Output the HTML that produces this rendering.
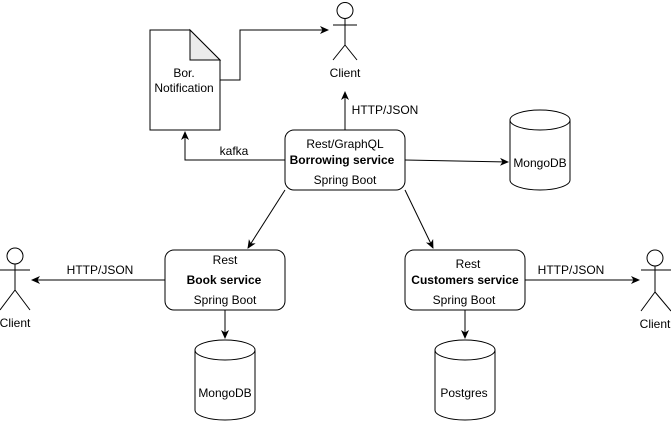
<!DOCTYPE html>
<html><head><meta charset="utf-8"><style>
html,body{margin:0;padding:0;background:#fff;}
svg{display:block;}
text{font-family:"Liberation Sans",sans-serif;font-size:12px;fill:#000;}
</style></head><body>
<svg width="671" height="421" viewBox="0 0 671 421" xmlns="http://www.w3.org/2000/svg">
<defs>
<marker id="a" markerWidth="10" markerHeight="10" refX="8" refY="5" orient="auto" markerUnits="userSpaceOnUse">
<path d="M0,1 L9,5 L0,9 L2.5,5 Z" fill="#000"/>
</marker>
</defs>
<g fill="none" stroke="#000" stroke-width="1">
<!-- top client -->
<circle cx="345" cy="10.5" r="8" fill="#fff"/>
<path d="M345,18.5V45 M333,25H357 M345,45L333,60 M345,45L357,60"/>
<!-- left client -->
<circle cx="15" cy="256" r="8" fill="#fff"/>
<path d="M15,264V290 M0,270H30 M15,290L0,310 M15,290L30,310"/>
<!-- right client -->
<circle cx="655" cy="258" r="8" fill="#fff"/>
<path d="M655,266V292 M641,270H671 M655,292L641,311 M655,292L671,311"/>
<!-- document -->
<path d="M150,30H190L220,60V130H150Z" fill="#fff"/>
<path d="M190,30V60H220Z" fill="#ebebeb"/>
<!-- boxes -->
<rect x="285" y="130" width="120" height="60" rx="9" fill="#fff"/>
<rect x="165" y="250" width="120" height="60" rx="9" fill="#fff"/>
<rect x="405" y="250" width="120" height="60" rx="9" fill="#fff"/>
<!-- cylinders -->
<path d="M510,120V180A30,10 0 0 0 570,180V120" fill="#fff"/>
<ellipse cx="540" cy="120" rx="30" ry="10" fill="#fff"/>
<path d="M195,350V410A30,10 0 0 0 255,410V350" fill="#fff"/>
<ellipse cx="225" cy="350" rx="30" ry="10" fill="#fff"/>
<path d="M435,350V410A30,10 0 0 0 495,410V350" fill="#fff"/>
<ellipse cx="465" cy="350" rx="30" ry="10" fill="#fff"/>
<!-- connectors -->
<path d="M220,80H240V30H328" marker-end="url(#a)"/>
<path d="M345,130V92" marker-end="url(#a)"/>
<path d="M285,160H185V132" marker-end="url(#a)"/>
<path d="M405,160L508,162" marker-end="url(#a)"/>
<path d="M285,190L248,248" marker-end="url(#a)"/>
<path d="M405,190L433,248" marker-end="url(#a)"/>
<path d="M165,280H32" marker-end="url(#a)"/>
<path d="M525,280H639" marker-end="url(#a)"/>
<path d="M225,310V338" marker-end="url(#a)"/>
<path d="M465,310V338" marker-end="url(#a)"/>
</g>
<g text-anchor="middle">
<text x="345" y="77">Client</text>
<text x="15" y="327">Client</text>
<text x="655" y="328">Client</text>
<text x="184" y="77">Bor.</text>
<text x="184" y="92">Notification</text>
<text x="345" y="148">Rest/GraphQL</text>
<text x="342" y="164" font-weight="bold">Borrowing service</text>
<text x="345" y="184">Spring Boot</text>
<text x="225" y="264">Rest</text>
<text x="224" y="284" font-weight="bold">Book service</text>
<text x="225" y="304">Spring Boot</text>
<text x="468" y="268">Rest</text>
<text x="465" y="284" font-weight="bold">Customers service</text>
<text x="464" y="304">Spring Boot</text>
<text x="540" y="167">MongoDB</text>
<text x="225" y="397">MongoDB</text>
<text x="464" y="397">Postgres</text>
<text x="385" y="114">HTTP/JSON</text>
<text x="234" y="155">kafka</text>
<text x="100" y="274">HTTP/JSON</text>
<text x="571" y="274">HTTP/JSON</text>
</g>
</svg>
</body></html>
